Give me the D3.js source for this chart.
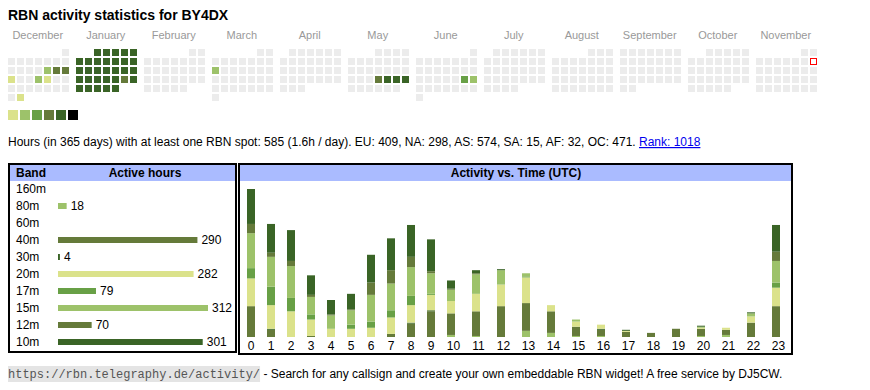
<!DOCTYPE html>
<html>
<head>
<meta charset="utf-8">
<script src="https://cdn.jsdelivr.net/npm/d3@7"></script>
<style>
  body { margin: 0; background: #fff; }
  svg { display: block; font-family: Arial, "Liberation Sans", Helvetica, sans-serif; }
</style>
</head>
<body>
<svg id="chart" width="870" height="390"></svg>
<script>
// ---- data ----
const callsign = "BY4DX";
const monthNames = ["December", "January", "February", "March", "April", "May",
                    "June", "July", "August", "September", "October", "November"];
// days with spots and their activity level (1 = few hours ... 6 = most)
const activeDates = ["2024-12-13", "2024-12-14", "2024-12-15", "2024-12-16", "2024-12-19", "2024-12-20", "2024-12-31",
  "2025-01-01", "2025-01-02", "2025-01-03", "2025-01-04", "2025-01-05", "2025-01-06", "2025-01-07", "2025-01-08",
  "2025-01-09", "2025-01-10", "2025-01-11", "2025-01-12", "2025-01-13", "2025-01-14", "2025-01-15", "2025-01-16",
  "2025-01-17", "2025-01-18", "2025-01-19", "2025-01-20", "2025-01-21", "2025-01-22", "2025-01-23", "2025-01-24",
  "2025-01-25", "2025-01-26", "2025-01-27", "2025-01-28", "2025-01-29", "2025-01-30", "2025-01-31",
  "2025-03-10", "2025-05-22", "2025-05-23", "2025-05-24", "2025-05-25", "2025-06-21", "2025-06-22"];
const activeLevels = [2, 4, 4, 1, 2, 1, 1,
  5, 5, 5, 5, 5, 5, 5, 5,
  5, 5, 5, 5, 5, 5, 5, 5,
  5, 5, 5, 5, 5, 5, 5, 5,
  4, 5, 5, 5, 5, 5, 5,
  2, 4, 5, 5, 5, 3, 2];
const levelColors = ["#dbe28b", "#9dc26a", "#68a046", "#657a3a", "#3a6426", "#000000"];
const today = "2025-11-09";

const totalHours = 585, totalDays = 365;
const continents = ["EU", "NA", "AS", "SA", "AF", "OC"];
const continentHours = [409, 298, 574, 15, 32, 471];
const rank = 1018;

// bands, top to bottom in the table
const bands = ["160m", "80m", "60m", "40m", "30m", "20m", "17m", "15m", "12m", "10m"];
const bandHours = [0, 18, 0, 290, 4, 282, 79, 312, 70, 301];
const bandColors = ["#dbe28b", "#9dc26a", "#68a046", "#657a3a", "#3a6426",
                    "#dbe28b", "#68a046", "#9dc26a", "#657a3a", "#3a6426"];

// active hours per UTC hour, per band
const hours = d3.range(24);
const h160m = [0,0,0,0,0,0,0,0,0,0,0,0,0,0,0,0,0,0,0,0,0,0,0,0];
const h80m  = [0,0,0,0,0,0,0,0,0,0,2,1,0,6,4,1,1,0,0,0,1,2,0,0];
const h60m  = [0,0,0,0,0,0,0,0,0,0,0,0,0,0,0,0,0,0,0,0,0,0,0,0];
const h40m  = [30,7,0,1,0,0,0,3,13,25,21,24,30,27,21,9,6,5,4,8,7,5,14,30];
const h30m  = [0,1,0,0,0,0,0,0,1,1,0,0,0,0,0,0,1,0,0,0,0,0,0,0];
const h20m  = [27,23,25,16,8,8,9,16,17,15,12,17,21,25,6,5,4,1,0,0,1,2,6,18];
const h17m  = [10,18,13,5,0,4,6,7,9,1,0,0,0,1,0,0,0,0,0,0,0,0,0,5];
const h15m  = [34,29,31,17,13,14,26,26,28,20,11,19,14,3,0,2,0,0,0,0,1,0,3,21];
const h12m  = [9,4,5,2,1,1,12,13,10,2,1,1,0,0,0,0,0,0,0,0,0,0,0,9];
const h10m  = [34,28,30,19,14,15,27,31,31,31,8,3,1,0,0,0,0,1,0,0,1,0,1,26];

const svg = d3.select("#chart");

// ---- title ----
svg.append("text")
    .attr("x", 8).attr("y", 20)
    .attr("font-size", "14px").attr("font-weight", "bold")
    .text("RBN activity statistics for " + callsign);

// ---- calendar heatmap ----
const fmt = d3.utcFormat("%Y-%m-%d");
const levelByDate = new Map(activeDates.map((d, i) => [d, activeLevels[i]]));
const firstMonth = new Date(Date.UTC(2024, 11, 1));
const monthStarts = d3.utcMonth.range(firstMonth, d3.utcMonth.offset(firstMonth, 12));

let days = [];
monthStarts.forEach((m, mi) => {
    let lead = (m.getUTCDay() + 6) % 7; // monday first
    d3.utcDay.range(m, d3.utcMonth.offset(m, 1)).forEach(day => {
        let k = day.getUTCDate() - 1 + lead;
        let key = fmt(day);
        days.push({date: key, month: mi, col: k % 7, row: Math.floor(k / 7), level: levelByDate.get(key) || 0});
    });
});

const xMonth = d3.scaleLinear().domain([0, 1]).range([8, 76]);
const xCol = d3.scaleLinear().domain([0, 1]).range([0, 9]);
const yRow = d3.scaleLinear().domain([0, 1]).range([49, 58]);
const cellColor = d3.scaleOrdinal().domain(d3.range(7)).range(["#ececec"].concat(levelColors));
const cell = 7;

svg.append("g").selectAll("text")
    .data(monthNames)
    .enter().append("text")
    .attr("x", (d, i) => xMonth(i) + xCol(6.5) / 2 + 0.5)
    .attr("y", 39)
    .attr("text-anchor", "middle")
    .attr("font-size", "11px")
    .attr("fill", "#999")
    .text(d => d);

svg.append("g").selectAll("rect")
    .data(days)
    .enter().append("rect")
    .attr("x", d => xMonth(d.month) + xCol(d.col))
    .attr("y", d => yRow(d.row))
    .attr("width", cell).attr("height", cell)
    .attr("fill", d => d.date == today ? "#fff" : cellColor(d.level))
    .attr("stroke", d => d.date == today ? "red" : "none")
    .filter(d => d.date == today)
    .attr("x", d => xMonth(d.month) + xCol(d.col) + 0.5)
    .attr("y", d => yRow(d.row) + 0.5)
    .attr("width", cell - 1).attr("height", cell - 1);

// level legend
svg.append("g").selectAll("rect")
    .data(levelColors)
    .enter().append("rect")
    .attr("x", (d, i) => 8 + i * 12)
    .attr("y", 110)
    .attr("width", 10).attr("height", 10)
    .attr("fill", d => d);

// ---- summary line ----
let summary = "Hours (in " + totalDays + " days) with at least one RBN spot: " + totalHours +
    " (" + (totalHours / totalDays).toFixed(1) + "h / day). " +
    continents.map((c, i) => c + ": " + continentHours[i]).join(", ") + ". ";
let sumText = svg.append("text")
    .attr("x", 8).attr("y", 146)
    .attr("font-size", "12px");
sumText.append("tspan").text(summary);
sumText.append("tspan")
    .attr("fill", "#0000ee")
    .attr("text-decoration", "underline")
    .text("Rank: " + rank);

// ---- band table ----
const left = svg.append("g");
left.append("rect").attr("x", 10).attr("y", 165).attr("width", 225).attr("height", 16).attr("fill", "#aabbff");
left.append("text").attr("x", 16).attr("y", 177).attr("font-size", "12px").attr("font-weight", "bold").text("Band");
left.append("text").attr("x", 145).attr("y", 177).attr("font-size", "12px").attr("font-weight", "bold")
    .attr("text-anchor", "middle").text("Active hours");

const yBand = d3.scaleBand().domain(bands).range([180.5, 350.5]);
const xBand = d3.scaleLinear().domain([0, d3.max(bandHours)]).range([0, 150]);

let rows = left.selectAll("g.row")
    .data(bands.map((b, i) => ({band: b, value: bandHours[i], color: bandColors[i]})))
    .enter().append("g")
    .attr("class", "row")
    .attr("transform", d => "translate(0," + (yBand(d.band) + yBand.bandwidth() / 2) + ")");

rows.append("text")
    .attr("x", 16).attr("dy", "0.35em")
    .attr("font-size", "12px")
    .text(d => d.band);

rows.filter(d => d.value > 0).append("rect")
    .attr("x", 58).attr("y", -3)
    .attr("width", d => Math.max(1, xBand(d.value)))
    .attr("height", 6)
    .attr("fill", d => d.color);

rows.filter(d => d.value > 0).append("text")
    .attr("x", d => 58 + Math.max(1, xBand(d.value)) + 4)
    .attr("dy", "0.35em")
    .attr("font-size", "12px")
    .text(d => d.value);

left.append("rect").attr("x", 9).attr("y", 164).attr("width", 227).attr("height", 188)
    .attr("fill", "none").attr("stroke", "#000").attr("stroke-width", 2);

// ---- activity vs time ----
const right = svg.append("g");
right.append("rect").attr("x", 240).attr("y", 165).attr("width", 551).attr("height", 16).attr("fill", "#aabbff");
right.append("text").attr("x", 516).attr("y", 177).attr("font-size", "12px").attr("font-weight", "bold")
    .attr("text-anchor", "middle").text("Activity vs. Time (UTC)");

const byBand = {"160m": h160m, "80m": h80m, "60m": h60m, "40m": h40m, "30m": h30m,
                "20m": h20m, "17m": h17m, "15m": h15m, "12m": h12m, "10m": h10m};
const table = hours.map((h, i) => {
    let row = {hour: h};
    bands.forEach(b => row[b] = byBand[b][i]);
    return row;
});
const stackKeys = bands; // 160m at the bottom, 10m on top
const series = d3.stack().keys(stackKeys)(table);
const colorOf = d3.scaleOrdinal().domain(bands).range(bandColors);

// table columns get wider with two-digit labels
const colWidth = h => 15 + 5 * String(h).length;
const colStart = hours.map((h, i) => 241 + d3.sum(hours.slice(0, i), colWidth));
const xHour = d3.scaleOrdinal().domain(hours).range(colStart);
const yHour = d3.scaleLinear()
    .domain([0, d3.max(table, d => d3.sum(stackKeys, k => d[k]))])
    .range([337, 189]);

right.append("g").selectAll("g")
    .data(series)
    .enter().append("g")
    .attr("fill", d => colorOf(d.key))
    .selectAll("rect")
    .data(d => d.filter(p => p[1] > p[0]))
    .enter().append("rect")
    .attr("x", d => xHour(d.data.hour) + 6)
    .attr("y", d => yHour(d[1]))
    .attr("width", 8)
    .attr("height", d => yHour(d[0]) - yHour(d[1]));

right.append("g").selectAll("text")
    .data(hours)
    .enter().append("text")
    .attr("x", d => xHour(d) + colWidth(d) / 2)
    .attr("y", 350)
    .attr("text-anchor", "middle")
    .attr("font-size", "12px")
    .text(d => d);

right.append("rect").attr("x", 239).attr("y", 164).attr("width", 553).attr("height", 190)
    .attr("fill", "none").attr("stroke", "#000").attr("stroke-width", 2);

// ---- footer ----
const url = "https://rbn.telegraphy.de/activity/";
let foot = svg.append("g");
let code = foot.append("text")
    .attr("x", 8).attr("y", 378)
    .attr("font-family", "'Liberation Mono', 'Courier New', monospace")
    .attr("font-size", "12px")
    .attr("fill", "#555")
    .text(url);
let cw = code.node().getComputedTextLength();
foot.insert("rect", "text")
    .attr("x", 8).attr("y", 366)
    .attr("width", cw).attr("height", 16)
    .attr("fill", "#e4e4e4");
foot.append("text")
    .attr("x", 8 + cw).attr("y", 378)
    .attr("font-size", "12px")
    .text("\u00a0- Search for any callsign and create your own embeddable RBN widget! A free service by DJ5CW.");
</script>
</body>
</html>
